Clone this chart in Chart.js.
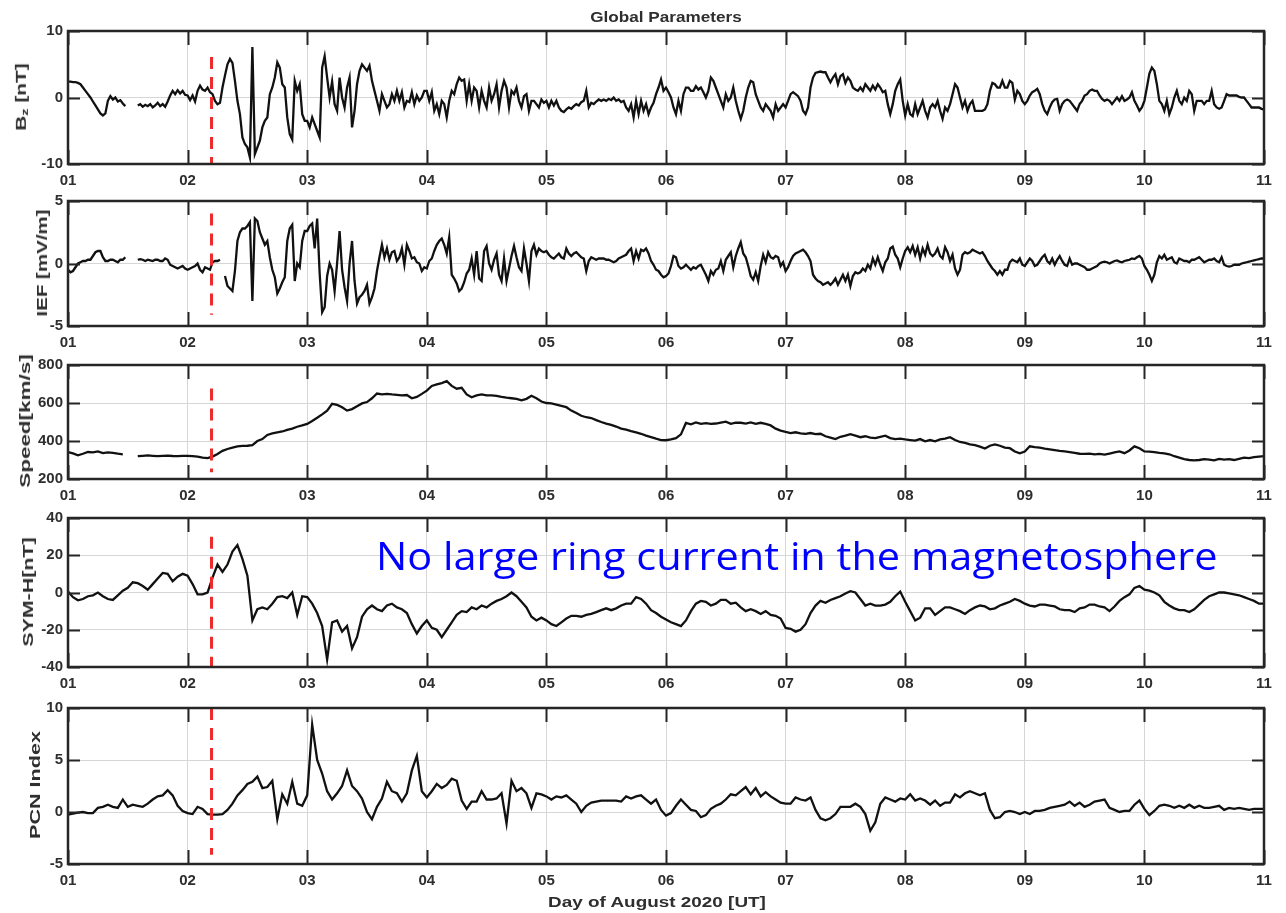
<!DOCTYPE html>
<html>
<head>
<meta charset="utf-8">
<title>Global Parameters</title>
<script src="https://cdn.jsdelivr.net/npm/chart.js@4.4.1/dist/chart.umd.min.js"></script>
<style>
  html, body { margin: 0; padding: 0; background: #fff; }
  #wrap { position: relative; width: 1286px; height: 913px; overflow: hidden; background: #fff; }
  #wrap canvas { position: absolute; left: 0; filter: blur(0.5px); }
  .lbl { position: absolute; font-family: "Liberation Sans", Arial, sans-serif; font-weight: bold;
         color: #2e2e2e; white-space: nowrap; line-height: 1; filter: blur(0.4px); }
  .lbl sub { font-size: 0.7em; vertical-align: -0.25em; }
  #note { position: absolute; font-family: "Open Sans", sans-serif; color: #0000ff; white-space: nowrap;
          line-height: 1; transform-origin: 0 0; }
</style>
</head>
<body>
<div id="wrap"></div>
<script>
// Day-of-month tick labels for the shared time axis (1–11 August 2020)
const dayTicks = ['01', '02', '03', '04', '05', '06', '07', '08', '09', '10', '11'];

// Start of the event (day 2.2), drawn as a dashed red marker in every panel
const shockDay = 2.2;

// IMF Bz [nT], 30-minute samples, one row per day (null = data gap)
const bz = [
  [2.4,2.4,2.3,2.3,2.2,2.0,1.5,1.0,0.5,0,-0.6,-1.2,-1.8,-2.4,-2.7,-2.4,-0.5,0.2,-0.3,0,-0.6,-0.4,-0.9,-1.3,null,null,null,null,-1.2,-1.0,-1.4,-1.1,-1.3,-1.0,-1.5,-1.2,-0.8,-1.3,-1.0,-1.4,-0.6,0.3,1.0,0.5,1.1,0.6,1.0,0.4],
  [0.3,-0.4,0.3,-0.6,1.0,1.8,1.2,1.0,1.5,0.8,0.5,-0.5,-1.0,-0.8,1.5,3.3,5.0,5.8,5.2,2.5,-0.5,-2.5,-6.0,-7.0,-7.5,-9.0,7.6,-8.5,-7.5,-6.5,-4.5,-3.5,-3.0,0.5,1.5,3.0,5.3,4.5,2.0,1.5,-3.0,-5.5,-6.3,2.5,1.0,2.0,-2.5,-3.5],
  [-3.5,-4.5,-3.0,-4.0,-5.0,-6.0,4.5,6.2,3.0,0,2.4,-1.0,-2.0,3.0,0,-1.5,1.5,3.0,-4.5,-2.0,2.0,4.0,5.0,4.5,4.0,4.8,2.5,1.0,-0.5,-2.0,0.5,-0.5,-1.5,-1.0,0.5,-0.5,1.0,-0.5,0.8,-1.5,-0.5,-0.7,0.8,-1.0,0.3,-0.5,0,1.0],
  [1.0,-0.5,0.8,-2.0,-1.0,-2.5,-0.5,-1.0,-3.0,-0.5,1.0,0.5,2.0,3.0,2.5,2.7,-0.5,2.0,-0.5,1.5,1.0,-1.5,1.0,-0.5,-1.5,1.5,-0.5,0.5,2.0,-1.5,1.0,2.5,1.5,-1.5,1.0,0.5,1.5,-0.5,-1.5,0.2,0.5,-2.0,-0.5,-0.5,-1.0,-1.5,-0.3,-0.8],
  [-0.5,-1.5,-0.5,-1.2,-0.5,-1.5,-2.0,-2.2,-1.8,-1.5,-1.7,-1.3,-1.0,-1.2,-0.7,-0.5,1.0,-1.5,-0.8,-1.0,-0.6,-0.3,-0.5,-0.3,-0.5,-0.2,-0.4,0,-0.5,-0.3,-0.7,-0.5,-1.5,-2.0,-1.0,-3.0,-0.5,-2.5,-0.5,-2.0,-1.0,-2.5,-1.5,-0.8,0.5,1.5,2.7,1.0],
  [1.5,0.8,0,-1.5,-2.5,-0.5,-2.0,0.5,1.5,1.5,1.0,1.0,1.7,1.2,1.5,0.8,0,1.0,3.0,2.5,1.5,0.5,-0.5,-1.5,0.5,-0.5,0,1.5,-0.5,-2.0,-3.2,-2.0,0,1.5,2.5,2.3,0.5,-0.5,-1.5,-2.0,-1.0,-1.5,-2.0,-3.0,-1.0,-2.0,-1.5,-1.0],
  [-1.5,-0.5,0.5,0.8,0.5,0.2,-0.5,-2.0,-2.5,-1.5,1.5,3.0,3.7,3.8,3.9,3.8,3.8,3.0,2.3,3.0,3.5,2.0,3.2,3.5,2.2,3.0,2.5,1.5,1.2,1.0,1.5,1.0,2.0,1.5,1.0,1.8,1.2,2.0,1.5,0.8,1.0,-1.0,-2.5,-1.0,1.0,2.0,2.7,-0.5],
  [-2.7,-1.0,-2.5,-2.8,-1.0,-2.5,-1.5,-0.5,-2.0,-3.0,-1.5,-1.0,-1.5,-0.5,-2.0,-3.2,-1.5,-2.0,-1.0,0.5,2.0,1.5,0,-1.5,-0.5,-2.0,-1.0,-0.5,-2.0,-2.0,-2.0,-2.0,-1.8,-1.0,1.0,2.2,2.0,1.5,1.5,2.5,1.5,1.5,2.5,2.2,-0.3,1.0,0.5,-0.5],
  [-1.0,-0.5,0.3,0.8,1.0,1.3,0.5,-1.0,-2.0,-2.5,-1.5,-0.7,-0.3,-0.2,-2.0,-1.0,-0.5,-0.3,-0.5,-1.0,-1.5,-2.0,-1.0,-0.5,0.3,0.5,1.0,1.2,1.0,1.0,0.3,-0.2,-0.5,-0.3,-0.5,-1.0,-0.5,0,-0.5,0.2,-0.5,-0.3,0,0.8,-0.5,-1.2,-2.0,-1.5],
  [-0.5,1.5,3.6,4.5,4.0,2.0,-0.5,-1.0,-2.0,-0.5,-2.5,-1.5,0,1.0,-0.5,-1.0,0,-0.5,1.0,0.5,-2.0,-0.5,-0.5,-0.5,-1.0,-0.5,-0.5,1.0,-1.0,-1.5,-1.7,-1.5,-0.5,0.5,0.3,0.3,0.3,0.3,0.1,0,0,-0.5,-1.0,-1.5,-1.5,-1.5,-1.5,-1.7,-1.8]
];

// Interplanetary electric field [mV/m], 30-minute samples per day
const ief = [
  [-0.5,-0.7,-0.6,-0.3,0,0.1,0.2,0.2,0.3,0.3,0.6,0.9,1.0,1.0,0.5,0.2,0.2,0.3,0.3,0.2,0.1,0.3,0.3,0.5,null,null,null,null,0.3,0.35,0.3,0.2,0.3,0.25,0.2,0.3,0.3,0.2,0.2,0.4,0.3,-0.1,-0.2,-0.3,-0.4,-0.3,-0.2,-0.4],
  [-0.5,-0.4,-0.3,-0.2,0,-0.5,-0.7,-0.3,-0.4,-0.5,0.1,0.2,0.2,0.3,null,-1.0,-1.8,-2.0,-2.2,-0.6,1.8,2.5,2.8,2.8,3.0,3.3,-3.0,3.6,3.4,2.5,2.0,1.5,1.8,0.5,-0.5,-1.1,-2.4,-2.0,-1.5,-1.1,1.8,2.8,3.1,-1.4,0,-0.3,1.8,2.6],
  [2.6,3.0,3.2,1.2,3.6,-0.8,-3.9,-3.5,-1.0,0,-0.5,-2.2,0,2.6,-0.5,-1.9,-3.0,0,1.8,-1.4,-3.2,-2.7,-2.5,-2.2,-1.7,-3.2,-2.7,-2.0,-0.6,0.5,1.5,0.5,1.2,0.3,0.9,1.0,0.2,0.5,1.2,-0.1,1.5,1.0,0.4,0.5,0.1,0,-0.6,-0.3],
  [-0.4,0.2,0.4,1.0,1.5,1.8,2.0,1.5,0.8,2.1,-0.9,-1.2,-1.6,-2.2,-2.0,-1.5,-0.8,-0.5,0.4,-0.9,1.0,-1.2,-1.4,1.0,1.4,0,-0.5,0.3,0.8,-0.9,-1.4,0.4,-1.4,-0.4,0.6,1.4,0.5,-0.3,-0.6,1.2,0,-1.4,1.0,1.5,0.7,1.2,1.0,0.9],
  [1.0,0.7,0.5,0.4,0.6,0.8,0.5,0.4,1.2,0.8,0.6,0.8,0.9,0.7,0.5,0.4,-0.6,0.2,0.5,0.4,0.3,0.4,0.4,0.4,0.3,0.3,0.2,0.1,0.2,0.4,0.5,0.6,0.7,1.0,1.2,0.2,1.0,0.4,1.1,1.0,1.2,0.8,0.2,-0.1,-0.5,-0.6,-0.9,-1.1],
  [-1.0,-0.8,-0.2,0.6,0.5,-0.2,-0.4,-0.3,-0.1,-0.3,-0.5,-0.3,-0.4,-0.2,-0.1,-0.5,-0.9,-1.4,-0.6,-0.9,-0.5,-0.4,0.2,-0.6,0.3,0.6,0.9,-0.3,0.6,1.2,1.7,0.8,0.5,-0.2,-1.0,-1.3,-0.7,-1.4,-0.2,0.7,0.1,0.9,0.5,0.4,0.6,0.5,-0.2,0.1],
  [-0.6,-0.3,0.2,0.6,0.8,0.9,1.0,1.1,0.9,0.6,0.2,-0.9,-1.2,-1.4,-1.5,-1.7,-1.6,-1.5,-1.7,-1.5,-1.2,-1.7,-1.3,-0.9,-1.4,-0.9,-1.8,-1.0,-0.7,-0.8,-0.7,-0.4,-0.6,-0.1,-0.4,0.4,-0.1,0.5,-0.1,-0.6,0.1,0.4,1.2,1.35,0.7,0.4,-0.3,0.4],
  [1.0,1.3,0.9,1.4,0.7,1.3,0.4,1.2,0.7,1.5,0.8,0.6,0.8,1.2,0.6,0.4,1.3,0.9,0.2,0.7,-0.4,-0.9,-0.5,0.7,0.9,0.8,0.9,1.1,1.0,0.9,0.8,0.9,0.6,0.2,-0.1,-0.4,-0.6,-0.9,-0.6,-0.9,-0.5,-0.5,0.1,0.3,0.2,0.1,0.4,-0.1],
  [-0.2,0.1,0.4,0.2,-0.2,-0.1,0.2,0.5,0.7,0.2,0,0.4,-0.1,0.3,0.6,0.2,-0.1,-0.2,0.4,-0.1,0,0,-0.1,-0.2,-0.3,-0.5,-0.5,-0.4,-0.3,-0.2,0,0.1,0.15,0.1,0,0.1,0.2,0.25,0.15,0.1,0.2,0.25,0.3,0.4,0.35,0.5,0.6,0.4],
  [-0.2,-0.5,-0.9,-1.4,-0.9,0.1,0.6,0.4,0.7,0.3,0.4,0.5,0.1,0,0.4,0.3,0.2,0.2,0.1,0.3,0.3,0.4,0.5,0.3,0.1,0.2,0.3,0.3,0.4,0.2,0.1,0.5,-0.1,-0.2,-0.25,-0.2,-0.1,-0.1,-0.1,0,0.05,0.1,0.15,0.2,0.25,0.3,0.35,0.4,0.4]
];

// Solar wind speed [km/s], hourly samples per day
const speed = [
  [342,335,325,333,342,340,345,336,340,337,333,330,null,null,320,322,324,322,320,322,323,321,320,322],
  [322,320,318,312,310,318,332,348,358,365,372,374,375,378,400,410,432,440,445,450,458,465,475,482],
  [490,505,522,540,560,596,590,578,560,568,583,598,605,625,650,645,648,645,643,640,642,625,632,648],
  [665,690,698,705,715,690,675,680,645,630,640,645,640,640,638,632,628,625,622,614,622,638,625,608],
  [600,598,592,585,578,560,547,533,525,521,510,500,492,485,476,465,460,452,445,438,428,420,412,405],
  [404,408,415,435,495,488,498,490,494,490,492,497,502,490,497,496,492,498,490,496,490,482,465,455],
  [448,442,446,440,438,442,436,438,425,418,410,422,428,436,428,420,425,418,415,422,428,415,410,412],
  [408,405,402,410,398,405,398,408,412,420,405,395,390,382,378,370,360,375,382,375,365,362,345,335],
  [345,372,368,365,360,356,352,348,345,342,338,333,332,334,330,332,328,334,340,345,336,350,372,362],
  [345,344,342,338,335,330,320,313,305,300,298,300,305,302,298,306,302,305,300,306,312,310,315,318,320]
];

// SYM-H index [nT], hourly samples per day
const symh = [
  [0.5,-2.5,-4.2,-3.5,-2,-1.5,0,-2,-3.5,-4,-1.5,1,2.5,5.5,5,3.5,1.5,4.5,7.5,10.5,10,6,8.5,10],
  [9,4.5,-1,-1,0,8,15,11,15,22,25.5,18,9,-15,-9,-8,-9,-6,-2.5,-2,-3,0,-12,-2],
  [-2.5,-6,-11,-18,-36,-16,-15,-21,-18,-30,-24,-13,-9,-7,-9,-10,-7,-6,-8,-9,-11,-17,-22,-18],
  [-15,-19,-20,-24,-20,-16,-12,-10,-10.5,-8,-9,-7,-8,-6,-4.5,-3.5,-2,0,-2,-5,-8,-13,-15,-13.5],
  [-15,-17,-18,-16,-14,-12.5,-12.5,-13,-12,-11.5,-10.5,-9.5,-8.5,-9.5,-8.5,-7,-6,-6,-2.5,-3.5,-6,-9.5,-11,-13],
  [-14.5,-16,-17,-18,-15,-10,-6,-4.5,-5,-7,-6,-4,-4,-6,-5.5,-8,-10,-9,-10,-11.5,-10,-12,-12.5,-14],
  [-19,-19.5,-21,-20,-17,-11,-7,-4.5,-5.5,-4,-3,-2,-0.5,0.7,0,-3.5,-7,-6,-7,-7,-6.5,-5,-2,0.5],
  [-5,-10,-15,-13.5,-8.5,-8.5,-12,-10,-8,-8,-9,-10,-11.5,-9.5,-8,-7,-7.5,-9,-8.5,-7,-6,-5,-3.5,-4.5],
  [-6,-7,-7.5,-6.5,-6.5,-7,-7.5,-9,-9.5,-9.5,-10.5,-8.5,-8,-6.5,-6.5,-7.5,-8,-10,-7.5,-4.5,-2.5,-1,2.5,3.5],
  [1.5,1,0,-1.5,-5,-7,-8.5,-9.5,-9.5,-10.5,-9,-6.5,-4,-2,-1,0,0,-0.5,-1,-1.5,-2.5,-3.5,-4.5,-6,-6]
];

// PCN index, hourly samples per day
const pcn = [
  [-0.25,-0.15,-0.05,0,-0.1,-0.1,0.4,0.5,0.7,0.5,0.4,1.2,0.5,0.7,0.6,0.5,0.8,1.2,1.5,1.6,2.1,1.6,0.6,0.1],
  [-0.1,-0.2,0.5,0.3,-0.2,-0.25,-0.25,-0.2,0.2,0.8,1.6,2.1,2.7,2.9,3.4,2.3,2.4,3.0,-0.7,1.7,0.8,2.9,0.8,0.6],
  [1.6,8.4,5.0,3.7,2.0,1.2,1.8,2.5,4.0,2.5,2.0,1.3,0,-0.7,0.5,1.3,2.9,2.0,1.8,1.0,1.8,4.0,5.4,2.0],
  [1.4,2.0,2.7,2.3,2.6,3.2,3.0,1.1,0.3,1.0,1.0,2.0,1.2,1.2,1.3,1.8,-1.1,3.0,2.0,2.3,1.8,0.4,1.8,1.7],
  [1.5,1.2,1.5,1.4,1.6,1.2,0.8,0,0.6,0.9,1.0,1.1,1.1,1.1,1.1,1.0,1.5,1.3,1.5,1.6,1.2,0.8,1.2,0.2],
  [-0.35,-0.1,0.6,1.2,0.7,0.2,0.1,-0.5,-0.3,0.3,0.6,0.8,1.2,1.7,1.6,2.0,2.4,1.7,2.3,1.5,1.9,1.5,1.2,0.9],
  [0.8,0.8,1.4,1.2,1.1,1.4,0.2,-0.6,-0.8,-0.6,-0.2,0.5,0.5,0.5,0.8,0.5,-0.2,-1.8,-1.0,0.8,1.4,1.2,1.0,1.3],
  [1.2,1.7,1.1,1.3,1.1,0.7,1.1,0.6,0.9,0.9,1.7,1.4,1.8,2.0,1.8,1.6,1.8,0.2,-0.6,-0.5,0,0.1,0,-0.2],
  [0,-0.2,0.1,0.1,0.2,0.4,0.5,0.6,0.7,1.0,0.6,0.9,0.5,0.7,1.0,1.1,1.2,0.4,0.2,0,0.1,0.1,0.7,1.1],
  [0.3,-0.3,0.1,0.6,0.7,0.6,0.4,0.6,0.4,0.7,0.4,0.6,0.4,0.4,0.5,0.6,0.2,0.4,0.3,0.4,0.3,0.2,0.3,0.3,0.3]
];

// ---- drawing ----
const FONT = { family: "'Liberation Sans', Arial, sans-serif", size: 15, weight: 'bold' };
const INK = '#2e2e2e';
const PAD_T = 12;   // room above each plot for the top tick label
const X_H = 28;     // height reserved for the day labels under each plot

const panels = [
  { series: bz,    perDay: 48, top: 29,  bottom: 164, min: -10, max: 10,  step: 10,  mark: [6.1, -10],  label: 'B<sub>z</sub> [nT]', lx: 22, len: 67 },
  { series: ief,   perDay: 48, top: 199, bottom: 326, min: -5,  max: 5,   step: 5,   mark: [4.0, -4.1],  label: 'IEF [mV/m]',   lx: 42, len: 107 },
  { series: speed, perDay: 24, top: 363, bottom: 479, min: 200, max: 800, step: 200, mark: [676, 236],   label: 'Speed[km/s]',  lx: 25, len: 133 },
  { series: symh,  perDay: 24, top: 516, bottom: 667, min: -40, max: 40,  step: 20,  mark: [30, -40],    label: 'SYM-H[nT]',    lx: 28, len: 110 },
  { series: pcn,   perDay: 24, top: 706, bottom: 864, min: -5,  max: 10,  step: 5,   mark: [10, -4.1],   label: 'PCN Index',    lx: 35, len: 108 }
];

function toPoints(days, perDay) {
  const pts = [];
  days.forEach((vals, d) => vals.forEach((v, i) => pts.push({ x: 1 + d + i / perDay, y: v })));
  return pts;
}

// Frame, inward tick marks and the event marker
const framePlugin = {
  id: 'frame',
  afterDatasetsDraw(chart, args, opts) {
    const { ctx, chartArea: a, scales: { x, y } } = chart;
    ctx.save();
    const px = x.getPixelForValue(opts.at);
    ctx.strokeStyle = '#ee2b2b';
    ctx.lineWidth = 3;
    ctx.setLineDash([12, 8]);
    ctx.beginPath();
    ctx.moveTo(px, y.getPixelForValue(opts.from));
    ctx.lineTo(px, y.getPixelForValue(opts.to));
    ctx.stroke();
    ctx.setLineDash([]);

    ctx.strokeStyle = '#262626';
    ctx.lineWidth = 2;
    ctx.beginPath();
    x.ticks.forEach(t => {
      const p = Math.round(x.getPixelForValue(t.value)) + 0.5;
      ctx.moveTo(p, a.top); ctx.lineTo(p, a.top + 14);
      ctx.moveTo(p, a.bottom); ctx.lineTo(p, a.bottom - 14);
    });
    y.ticks.forEach(t => {
      const p = Math.round(y.getPixelForValue(t.value)) + 0.5;
      ctx.moveTo(a.left, p); ctx.lineTo(a.left + 12, p);
      ctx.moveTo(a.right, p); ctx.lineTo(a.right - 12, p);
    });
    ctx.stroke();

    ctx.lineWidth = 2.5;
    ctx.strokeRect(a.left, a.top, a.right - a.left, a.bottom - a.top);
    ctx.restore();
  }
};

const wrap = document.getElementById('wrap');

panels.forEach(p => {
  const cv = document.createElement('canvas');
  const h = (p.bottom - p.top) + PAD_T + X_H;
  cv.width = 1286; cv.height = h;
  cv.style.top = (p.top - PAD_T) + 'px';
  cv.style.width = '1286px'; cv.style.height = h + 'px';
  wrap.appendChild(cv);

  new Chart(cv, {
    type: 'line',
    data: {
      datasets: [{
        data: toPoints(p.series, p.perDay),
        borderColor: '#111',
        borderWidth: 2.3,
        pointRadius: 0,
        tension: 0,
        spanGaps: false
      }]
    },
    options: {
      responsive: false,
      animation: false,
      devicePixelRatio: 1,
      events: [],
      layout: { padding: { left: 0, right: 22, top: PAD_T, bottom: 0 } },
      plugins: {
        legend: { display: false },
        tooltip: { enabled: false },
        frame: { at: shockDay, from: p.mark[0], to: p.mark[1] }
      },
      scales: {
        x: {
          type: 'linear', min: 1, max: 11,
          ticks: { stepSize: 1, autoSkip: false, maxRotation: 0, padding: 8, font: FONT, color: INK,
                   callback: v => dayTicks[Math.round(v) - 1] },
          grid: { color: '#d6d6d6', lineWidth: 1, drawTicks: false },
          border: { display: false },
          afterFit: s => { s.height = X_H; }
        },
        y: {
          min: p.min, max: p.max,
          ticks: { stepSize: p.step, padding: 5, font: FONT, color: INK },
          grid: { color: '#d6d6d6', lineWidth: 1, drawTicks: false },
          border: { display: false },
          afterFit: s => { s.width = 68; }
        }
      }
    },
    plugins: [framePlugin]
  });
});

// ---- text ----
function addLabel(html, cx, cy, len, size, rotated) {
  const el = document.createElement('div');
  el.className = 'lbl';
  el.style.fontSize = size + 'px';
  el.innerHTML = html;
  wrap.appendChild(el);
  const k = len / el.offsetWidth;
  el.style.left = cx + 'px';
  el.style.top = cy + 'px';
  el.style.transform = 'translate(-50%,-50%)' + (rotated ? ' rotate(-90deg)' : '') + ' scaleX(' + k + ')';
  return el;
}

addLabel('Global Parameters', 666, 15.5, 152, 15, false);
addLabel('Day of August 2020 [UT]', 657, 901, 218, 15, false);
panels.forEach(p => addLabel(p.label, p.lx, (p.top + p.bottom) / 2, p.len, 14, true));

const note = document.createElement('div');
note.id = 'note';
note.style.fontSize = '38px';
note.textContent = 'No large ring current in the magnetosphere';
wrap.appendChild(note);
const nk = 842 / note.offsetWidth;
note.style.left = '376px';
note.style.top = (570 - 0.888 * 38) + 'px';
note.style.transform = 'scaleX(' + nk + ')';
</script>
</body>
</html>
